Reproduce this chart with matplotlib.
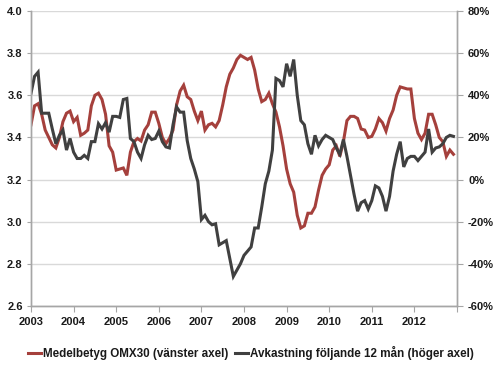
import numpy as np
import matplotlib
matplotlib.use("Agg")
import matplotlib.pyplot as plt

plt.rcParams['font.family'] = ['Liberation Sans', 'DejaVu Sans']

# monthly values, Jan 2003 .. Dec 2012
years = ['2003', '2004', '2005', '2006', '2007', '2008', '2009', '2010', '2011', '2012']

# Medelbetyg OMX30 (left axis)
betyg = [3.46, 3.55, 3.56, 3.51, 3.435, 3.40, 3.365, 3.35, 3.40, 3.475, 3.515, 3.525,
         3.475, 3.495, 3.41, 3.42, 3.435, 3.55, 3.60, 3.61, 3.58, 3.51, 3.36, 3.33,
         3.245, 3.25, 3.255, 3.22, 3.33, 3.38, 3.395, 3.383, 3.435, 3.46, 3.52, 3.52,
         3.467, 3.40, 3.37, 3.395, 3.435, 3.554, 3.62, 3.648, 3.593, 3.58, 3.525, 3.48,
         3.525, 3.435, 3.46, 3.467, 3.45, 3.48, 3.554, 3.64, 3.70, 3.73, 3.77, 3.79,
         3.78, 3.77, 3.78, 3.72, 3.63, 3.57, 3.58, 3.61, 3.56, 3.52, 3.45, 3.36,
         3.25, 3.18, 3.14, 3.03, 2.97, 2.98, 3.04, 3.04, 3.07, 3.15, 3.22, 3.25,
         3.27, 3.34, 3.36, 3.31, 3.38, 3.48, 3.50, 3.50, 3.49, 3.44, 3.435, 3.40,
         3.405, 3.44, 3.49, 3.47, 3.43, 3.49, 3.53, 3.60, 3.64, 3.635, 3.63, 3.63,
         3.49, 3.42, 3.39, 3.42, 3.51, 3.51, 3.46, 3.40, 3.38, 3.31, 3.34, 3.32]

# Avkastning foljande 12 man, percent (right axis)
avkastning = [41, 49, 51, 31.5, 31.5, 31.5, 24, 17, 21, 23.5, 14, 19.5,
              13, 10, 10, 11.5, 10, 18, 18, 26.5, 24, 27, 22.5, 30,
              30, 29.5, 38, 38.5, 19.5, 18, 13, 10, 16.5, 21, 19, 19.5,
              23, 18, 15.5, 15, 26, 34.5, 32, 32, 18.5, 10, 5, -1,
              -19, -17, -20, -21.5, -21, -31, -30, -29, -37.5, -46, -43, -40,
              -36, -34, -32, -23, -23, -13, -2, 4, 14, 48, 47, 44,
              55, 49, 57, 40, 28, 26, 17, 12, 21, 16, 19, 21,
              20, 19, 15, 12, 19, 11, 2, -7, -15, -11, -10, -14,
              -10, -3, -4, -8, -15, -8, 4, 12, 18, 6, 10, 11,
              11, 9, 11, 13, 24, 13, 15, 15.5, 17, 20, 21, 20.5]

red = '#a5403c'
dark = '#404040'
axis_col = '#a6a6a6'
grid_col = '#d9d9d9'

fig = plt.figure(figsize=(5.0, 3.69), dpi=100)
ax = fig.add_axes([0.062, 0.171, 0.852, 0.799])
ax2 = ax.twinx()

x = np.arange(len(betyg))
l1, = ax.plot(x, betyg, color=red, lw=2.2, solid_joinstyle='miter',
              label='Medelbetyg OMX30 (vänster axel)')
l2, = ax2.plot(x, avkastning, color=dark, lw=2.2, solid_joinstyle='miter',
               label='Avkastning följande 12 mån (höger axel)')

ax.set_xlim(0, 120)
ax.set_ylim(2.6, 4.0)
ax.set_yticks(np.arange(2.6, 4.01, 0.2))
ax.set_yticklabels(['%.1f' % v for v in np.arange(2.6, 4.01, 0.2)])
ax2.set_ylim(-60, 80)
ax2.set_yticks(np.arange(-60, 81, 20))
ax2.set_yticklabels(['%d%%' % v for v in np.arange(-60, 81, 20)])

ax.set_xticks(np.arange(0, 121, 12))
ax.set_xticklabels(years + [''])

ax.grid(axis='y', color=grid_col, lw=1.0)
ax.set_axisbelow(True)

for a in (ax, ax2):
    a.spines['top'].set_visible(False)
    for s in ('left', 'right', 'bottom'):
        a.spines[s].set_color(axis_col)
        a.spines[s].set_linewidth(1.0)

ax.tick_params(axis='x', direction='out', length=4, color=axis_col, pad=4)
ax.tick_params(axis='y', direction='out', length=3, color=axis_col, pad=3)
ax2.tick_params(axis='y', direction='out', length=4, color=axis_col, pad=4)

for lab in ax.get_xticklabels() + ax.get_yticklabels() + ax2.get_yticklabels():
    lab.set_fontsize(8)
    lab.set_fontweight('bold')
    lab.set_color('#1a1a1a')

leg = fig.legend(handles=[l1, l2], loc='center', bbox_to_anchor=(0.502, 0.044), ncol=2,
                 frameon=False, handlelength=1.1, handletextpad=0.15, columnspacing=0.6,
                 prop={'size': 8.4, 'weight': 'bold'})
for t in leg.get_texts():
    t.set_color('#1a1a1a')

fig.savefig('out.png', dpi=100)
